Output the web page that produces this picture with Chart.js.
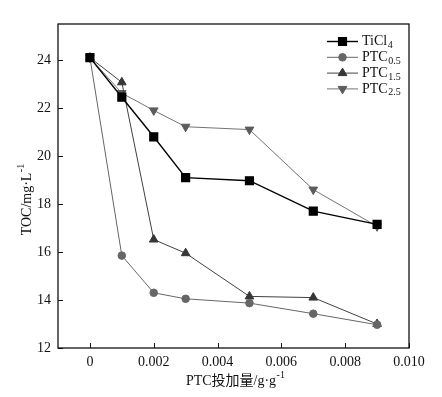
<!DOCTYPE html>
<html lang="zh">
<head>
  <meta charset="UTF-8" />
  <title>TOC vs PTC dosage</title>
  <script src="https://cdn.jsdelivr.net/npm/chart.js"></script>
  <style>
    body { margin: 0; background: #fff; }
    canvas { display: block; }
  </style>
</head>
<body>
  <canvas id="chart" width="442" height="397"></canvas>
  <script>
    // dosage (g/g) and TOC (mg/L)
    const dosage = [0, 0.001, 0.002, 0.003, 0.005, 0.007, 0.009];
    const ticl4 = [24.1, 22.45, 20.8, 19.1, 18.97, 17.7, 17.15];
    const ptc05 = [24.1, 15.85, 14.3, 14.05, 13.87, 13.43, 12.97];
    const ptc15 = [24.1, 23.07, 16.52, 15.95, 14.15, 14.1, 13.0];
    const ptc25 = [24.1, 22.62, 21.9, 21.22, 21.1, 18.6, 17.07];
    const xTicks = [0, 0.002, 0.004, 0.006, 0.008, 0.010];
    const xTickLabels = ['0', '0.002', '0.004', '0.006', '0.008', '0.010'];
    const yTicks = [12, 14, 16, 18, 20, 22, 24];

    const SERIF = '"Liberation Serif", "Times New Roman", "Noto Sans CJK SC", serif';

    function pts(ys) {
      return dosage.map((x, i) => ({ x: x, y: ys[i] }));
    }

    // legend names split in base + subscript
    const series = [
      { base: 'TiCl', sub: '4', data: ticl4, color: '#000', line: '#000', style: 'rect', r: 5.5, rot: 0, lw: 1.4 },
      { base: 'PTC', sub: '0.5', data: ptc05, color: '#666', line: '#666', style: 'circle', r: 3.8, rot: 0, lw: 1 },
      { base: 'PTC', sub: '1.5', data: ptc15, color: '#363636', line: '#404040', style: 'triangle', r: 5, rot: 0, lw: 1 },
      { base: 'PTC', sub: '2.5', data: ptc25, color: '#5c5c5c', line: '#737373', style: 'triangle', r: 5, rot: 180, lw: 1 }
    ];

    // draw text with a sub- or superscript part
    function richText(ctx, x, y, base, extra, size, isSup) {
      ctx.font = size + 'px ' + SERIF;
      ctx.fillText(base, x, y);
      const w = ctx.measureText(base).width;
      ctx.font = Math.round(size * 0.72) + 'px ' + SERIF;
      ctx.fillText(extra, x + w + 0.5, y + (isSup ? -size * 0.38 : size * 0.28));
      return w + ctx.measureText(extra).width;
    }

    const framePlugin = {
      id: 'frame',
      afterDraw(chart) {
        const ctx = chart.ctx;
        const a = chart.chartArea;
        const xs = chart.scales.x, ys = chart.scales.y;
        ctx.save();
        ctx.strokeStyle = '#111';
        ctx.lineWidth = 1.3;
        ctx.strokeRect(a.left, a.top, a.right - a.left, a.bottom - a.top);
        // inward ticks
        ctx.lineWidth = 1;
        ctx.beginPath();
        xTicks.forEach(v => {
          const px = Math.round(xs.getPixelForValue(v)) + 0.5;
          ctx.moveTo(px, a.bottom);
          ctx.lineTo(px, a.bottom - 5);
        });
        yTicks.forEach(v => {
          const py = Math.round(ys.getPixelForValue(v)) + 0.5;
          ctx.moveTo(a.left, py);
          ctx.lineTo(a.left + 5, py);
        });
        ctx.stroke();

        // legend
        ctx.fillStyle = '#111';
        ctx.textBaseline = 'middle';
        ctx.textAlign = 'left';
        series.forEach((s, i) => {
          const y = 41.5 + i * 15.8;
          ctx.strokeStyle = s.line;
          ctx.lineWidth = s.lw;
          ctx.beginPath();
          ctx.moveTo(327, y);
          ctx.lineTo(358, y);
          ctx.stroke();
          ctx.fillStyle = s.color;
          ctx.strokeStyle = s.color;
          Chart.helpers.drawPoint(ctx, { pointStyle: s.style, radius: s.r, rotation: s.rot, borderWidth: 1 }, 342.5, y);
          ctx.fillStyle = '#111';
          richText(ctx, 362, y, s.base, s.sub, 14, false);
        });

        // axis titles
        ctx.fillStyle = '#111';
        ctx.textBaseline = 'middle';
        ctx.font = '14px ' + SERIF;
        const xt = 'PTC投加量/g·g';
        const xw = ctx.measureText(xt).width;
        richText(ctx, 235 - xw / 2 - 4, 381, xt, '-1', 14, true);

        ctx.translate(27, 200);
        ctx.rotate(-Math.PI / 2);
        ctx.font = '14px ' + SERIF;
        const yt = 'TOC/mg·L';
        const yw = ctx.measureText(yt).width;
        richText(ctx, -yw / 2 - 4, 0, yt, '-1', 14, true);
        ctx.restore();
      }
    };

    new Chart(document.getElementById('chart'), {
      type: 'line',
      data: {
        datasets: series.map(s => ({
          label: s.base + s.sub,
          data: pts(s.data),
          borderColor: s.line,
          borderWidth: s.lw,
          backgroundColor: s.color,
          pointBackgroundColor: s.color,
          pointBorderColor: s.color,
          pointStyle: s.style,
          pointRadius: s.r,
          pointRotation: s.rot,
          tension: 0
        }))
      },
      options: {
        responsive: false,
        animation: false,
        layout: { padding: { top: 24, right: 33, left: 0, bottom: 0 } },
        plugins: { legend: { display: false }, tooltip: { enabled: false } },
        scales: {
          x: {
            type: 'linear',
            min: -0.001,
            max: 0.010,
            afterBuildTicks(scale) { scale.ticks = xTicks.map(v => ({ value: v })); },
            afterFit(scale) { scale.height = 49; },
            grid: { display: false, drawTicks: false },
            border: { display: false },
            ticks: {
              padding: 6,
              color: '#111',
              font: { family: SERIF, size: 14 },
              maxRotation: 0,
              callback: (v) => xTickLabels[xTicks.indexOf(v)] ?? ''
            }
          },
          y: {
            type: 'linear',
            min: 12,
            max: 25.5,
            afterBuildTicks(scale) { scale.ticks = yTicks.map(v => ({ value: v })); },
            afterFit(scale) { scale.width = 58; },
            grid: { display: false, drawTicks: false },
            border: { display: false },
            ticks: {
              padding: 7,
              color: '#111',
              font: { family: SERIF, size: 14 }
            }
          }
        }
      },
      plugins: [framePlugin]
    });
  </script>
</body>
</html>
